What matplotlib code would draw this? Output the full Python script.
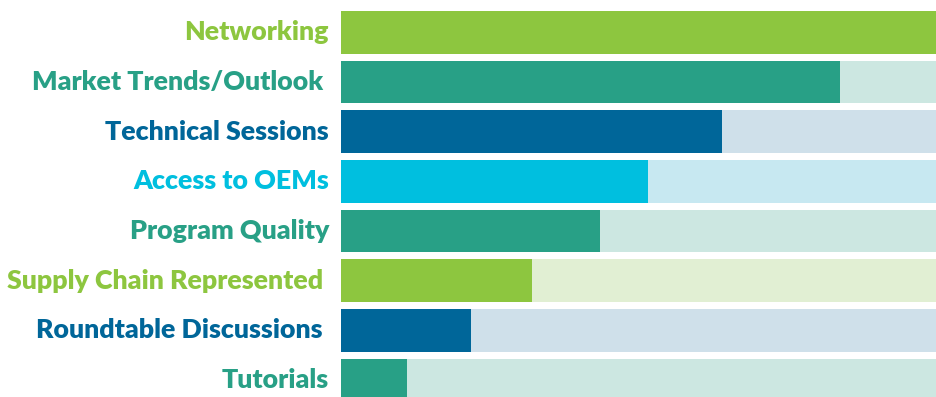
import matplotlib
matplotlib.use("Agg")
import matplotlib.pyplot as plt

# survey topics, top to bottom
categories = [
    "Networking",
    "Market Trends/Outlook ",
    "Technical Sessions",
    "Access to OEMs",
    "Program Quality",
    "Supply Chain Represented ",
    "Roundtable Discussions ",
    "Tutorials",
]
values = [100, 83.9, 64.0, 51.6, 43.5, 32.1, 21.8, 11.1]

GREEN = "#8dc63f"
TEAL = "#28a086"
BLUE = "#006699"
CYAN = "#00bfdf"
LIGHT = {GREEN: "#e1efd3", TEAL: "#cce7e1", BLUE: "#cfe0ea", CYAN: "#c7e8f1"}
bar_colors = [GREEN, TEAL, BLUE, CYAN, TEAL, GREEN, BLUE, TEAL]

W, H, DPI = 936, 397, 100
fig = plt.figure(figsize=(W / DPI, H / DPI), dpi=DPI)
left = 341
ax = fig.add_axes([left / W, 0, (W - left) / W, 1])

pitch = 49.65
first_center = 32.3
ypos = list(range(len(categories)))

# light track behind each bar, then the value bar on top
ax.barh(ypos, [100] * len(values), height=0.86,
        color=[LIGHT[c] for c in bar_colors], linewidth=0)
ax.barh(ypos, values, height=0.86, color=bar_colors, linewidth=0)

for i, (label, col) in enumerate(zip(categories, bar_colors)):
    ax.annotate(label, xy=(0, i), xycoords=("axes fraction", "data"),
                xytext=(-12, 0), textcoords="offset pixels",
                ha="right", va="center", color=col,
                fontsize=19.3, fontweight="heavy", family="Lato")

ax.set_xlim(0, 100)
ax.set_ylim((H - first_center) / pitch, -first_center / pitch)
ax.axis("off")

fig.savefig("out.png", dpi=DPI)
